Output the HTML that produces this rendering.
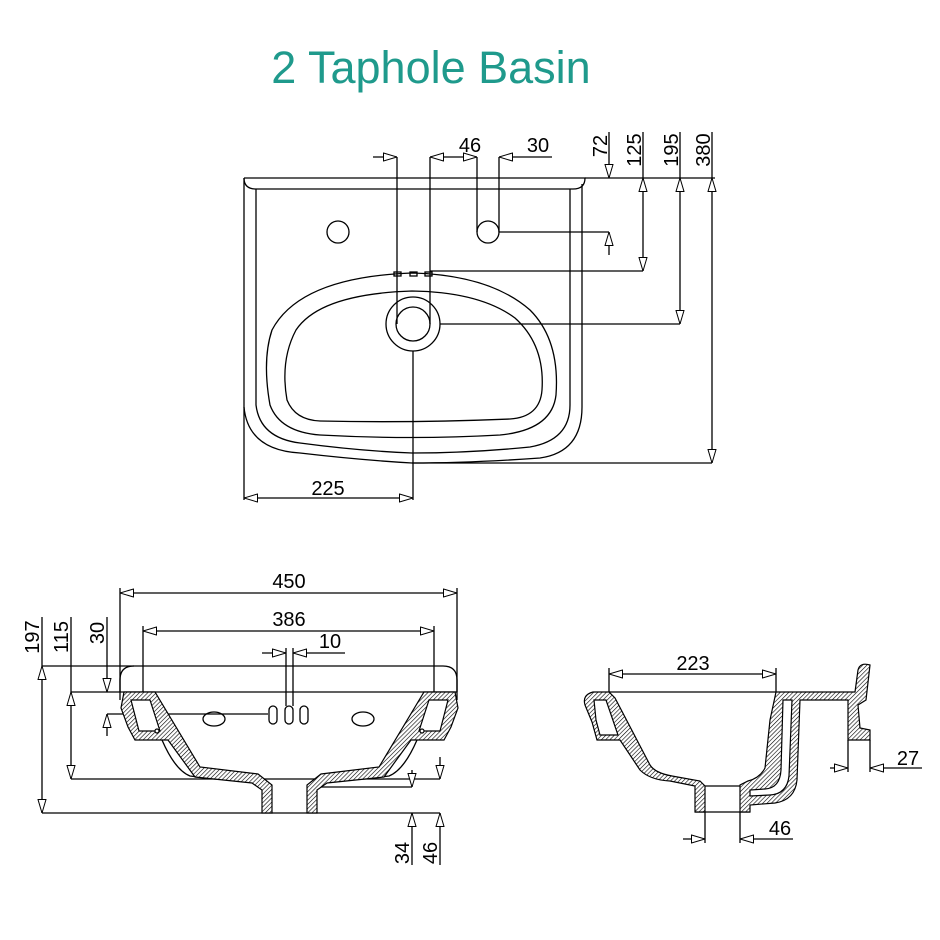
<!DOCTYPE html>
<html><head><meta charset="utf-8"><style>
html,body{margin:0;padding:0;background:#fff;}
svg{display:block;}
text{font-family:"Liberation Sans",sans-serif;fill:#000;}
</style></head><body>
<svg width="940" height="940" viewBox="0 0 940 940" xmlns="http://www.w3.org/2000/svg">
<defs>
<pattern id="h" width="3" height="3" patternUnits="userSpaceOnUse" patternTransform="rotate(45)">
<rect width="3" height="3" fill="#fff"/><line x1="0" y1="0" x2="0" y2="3" stroke="#000" stroke-width="1.2"/>
</pattern>
<marker id="a" viewBox="0 0 14 9" refX="14" refY="4.5" markerWidth="14" markerHeight="9" orient="auto-start-reverse" markerUnits="userSpaceOnUse">
<path d="M0.5,0.5 L14,4.5 L0.5,8.5 Z" fill="#fff" stroke="#000" stroke-width="1"/>
</marker>
</defs>
<text x="431" y="83" text-anchor="middle" font-size="45" style="fill:#1f9a8c">2 Taphole Basin</text>

<g fill="none" stroke="#000" stroke-width="1.3">
<path d="M244,178 H585 Q585,189 573,189 H256 Q244,189 244,178"/>
<path d="M244,178 V407 Q248,450 300,453 Q360,460 412,463 Q470,463 540,458 Q582,452 582,407 V184"/>
<path d="M256,189 V405 Q260,438 300,443 Q360,451 412,453 Q470,453 530,447 Q570,440 570,405 V189"/>
<path d="M412,273 Q300,277 272,330 Q262,360 270,405 Q280,432 320,435 Q412,440 500,435 Q552,430 556,395 Q560,340 530,310 Q490,275 412,273 Z"/>
<path d="M412,291 Q320,294 296,330 Q280,360 287,400 Q295,420 320,421 Q412,423 510,419 Q540,417 542,390 Q545,345 515,318 Q480,292 412,291 Z"/>
<circle cx="413" cy="324" r="27"/><circle cx="413" cy="324" r="17"/>
<circle cx="338" cy="232" r="11"/><circle cx="488" cy="232" r="11"/>
<rect x="394" y="272" width="7" height="4"/><rect x="410" y="272" width="7" height="4"/><rect x="425" y="272" width="7" height="4"/>
<line x1="397" y1="157" x2="397" y2="324"/><line x1="430" y1="157" x2="430" y2="324"/>
<line x1="373" y1="157" x2="397" y2="157" marker-end="url(#a)"/>
<line x1="430" y1="157" x2="454" y2="157" marker-start="url(#a)"/>
<line x1="454" y1="157" x2="477" y2="157" marker-end="url(#a)"/>
<line x1="499" y1="157" x2="552" y2="157" marker-start="url(#a)"/>
<line x1="477" y1="157" x2="477" y2="232"/><line x1="499" y1="157" x2="499" y2="232"/>
<line x1="585" y1="178" x2="715" y2="178"/>
<line x1="499" y1="232" x2="609" y2="232"/>
<line x1="430" y1="271" x2="643" y2="271"/>
<line x1="440" y1="324" x2="680" y2="324"/>
<line x1="412" y1="463" x2="712" y2="463"/>
<line x1="609" y1="132" x2="609" y2="178" marker-end="url(#a)"/>
<line x1="609" y1="255" x2="609" y2="232" marker-end="url(#a)"/>
<line x1="643" y1="132" x2="643" y2="178"/><line x1="643" y1="178" x2="643" y2="271" marker-start="url(#a)" marker-end="url(#a)"/>
<line x1="680" y1="132" x2="680" y2="178"/><line x1="680" y1="178" x2="680" y2="324" marker-start="url(#a)" marker-end="url(#a)"/>
<line x1="712" y1="132" x2="712" y2="178"/><line x1="712" y1="178" x2="712" y2="463" marker-start="url(#a)" marker-end="url(#a)"/>
<line x1="413" y1="351" x2="413" y2="500"/><line x1="244" y1="407" x2="244" y2="500"/>
<line x1="244" y1="498" x2="413" y2="498" marker-start="url(#a)" marker-end="url(#a)"/>

<line x1="120" y1="593" x2="457" y2="593" marker-start="url(#a)" marker-end="url(#a)"/>
<line x1="120" y1="588" x2="120" y2="700"/><line x1="457" y1="588" x2="457" y2="700"/>
<line x1="143" y1="631" x2="434" y2="631" marker-start="url(#a)" marker-end="url(#a)"/>
<line x1="143" y1="626" x2="143" y2="692"/><line x1="434" y1="626" x2="434" y2="692"/>
<line x1="262" y1="653" x2="286" y2="653" marker-end="url(#a)"/>
<line x1="293" y1="653" x2="345" y2="653" marker-start="url(#a)"/>
<line x1="286" y1="648" x2="286" y2="706"/><line x1="293" y1="648" x2="293" y2="706"/>
<path d="M120,692 V680 Q120,666 134,666 H443 Q457,666 457,680 V692"/>
<line x1="42" y1="666" x2="134" y2="666"/>
<line x1="71" y1="692" x2="457" y2="692"/>
<line x1="107" y1="714" x2="268" y2="714"/>
<line x1="42" y1="617" x2="42" y2="666"/><line x1="42" y1="666" x2="42" y2="813" marker-start="url(#a)" marker-end="url(#a)"/>
<line x1="71" y1="617" x2="71" y2="692"/><line x1="71" y1="692" x2="71" y2="779" marker-start="url(#a)" marker-end="url(#a)"/>
<line x1="107" y1="617" x2="107" y2="692" marker-end="url(#a)"/>
<line x1="107" y1="736" x2="107" y2="714" marker-end="url(#a)"/>
<line x1="71" y1="779" x2="440" y2="779"/>
<line x1="317" y1="787" x2="412" y2="787"/>
<line x1="42" y1="813" x2="440" y2="813"/>
<line x1="412" y1="770" x2="412" y2="787" marker-end="url(#a)"/>
<line x1="412" y1="865" x2="412" y2="813" marker-end="url(#a)"/>
<line x1="440" y1="757" x2="440" y2="779" marker-end="url(#a)"/>
<line x1="440" y1="865" x2="440" y2="813" marker-end="url(#a)"/>
<ellipse cx="214" cy="719" rx="11" ry="7"/><ellipse cx="363" cy="719" rx="11" ry="7"/>
<rect x="269" y="706" width="8" height="18" rx="4"/><rect x="285" y="706" width="8" height="18" rx="4"/><rect x="300" y="706" width="8" height="18" rx="4"/>
<path d="M162,740 Q175,770 190,776 Q220,780 262,782"/>
<path d="M417,740 Q404,770 389,776 Q359,780 317,782"/>
</g>
<g stroke="#000" stroke-width="1.2" fill="url(#h)">
<path d="M124,692 H155 L200,767 L258,774 L272,785 V813 H262 V790 L252,783 L195,777 L168,740 H135 L128,727 L121,708 Z"/>
<path d="M455,692 H424 L379,767 L321,774 L307,785 V813 H317 V790 L327,783 L384,777 L411,740 H444 L451,727 L458,708 Z"/>
</g>
<g stroke="#000" stroke-width="1.2" fill="#fff">
<path d="M131,700 H150 L160,731 H139 Z"/><path d="M448,700 H429 L419,731 H440 Z"/>
<circle cx="157" cy="731" r="2"/><circle cx="422" cy="731" r="2"/>
</g>

<g fill="none" stroke="#000" stroke-width="1.3">
<line x1="609" y1="674" x2="776" y2="674" marker-start="url(#a)" marker-end="url(#a)"/>
<line x1="609" y1="668" x2="609" y2="692"/><line x1="776" y1="668" x2="776" y2="692"/>
<line x1="609" y1="692" x2="776" y2="692"/>
<line x1="848" y1="740" x2="848" y2="772"/><line x1="870" y1="740" x2="870" y2="772"/>
<line x1="830" y1="768" x2="848" y2="768" marker-end="url(#a)"/>
<line x1="870" y1="768" x2="922" y2="768" marker-start="url(#a)"/>
<line x1="705" y1="812" x2="705" y2="843"/><line x1="740" y1="812" x2="740" y2="843"/>
<line x1="683" y1="839" x2="705" y2="839" marker-end="url(#a)"/>
<line x1="740" y1="839" x2="793" y2="839" marker-start="url(#a)"/>
<line x1="705" y1="786" x2="740" y2="786"/><line x1="695" y1="812" x2="750" y2="812"/>
</g>
<g stroke="#000" stroke-width="1.2" fill="url(#h)">
<path d="M609,692 H593 Q582,695 585,705 L592,722 L597,740 H620 L640,770 Q650,780 670,781 L695,786 V812 H705 V786 L700,781 L672,776 Q655,773 650,765 L615,698 Z"/>
<path d="M776,692 L770,720 L765,768 Q760,778 748,781 L740,785 V812 H750 V805 L775,803 Q795,800 797,780 L800,700 H848 V740 H870 V730 L860,728 L858,705 L866,700 L870,665 Q860,662 858,670 L855,692 Z"/>
</g>
<g stroke="#000" stroke-width="1.2" fill="#fff">
<path d="M594,700 H606 L618,735 H600 L596,720 Z"/>
<path d="M783,700 H792 L789,776 Q787,794 770,795 L750,796 V790 L765,789 Q780,788 781,770 Z"/>
</g>

<g font-size="20">
<text x="470" y="152" text-anchor="middle">46</text>
<text x="538" y="152" text-anchor="middle">30</text>
<text x="328" y="495" text-anchor="middle">225</text>
<text transform="translate(607,146) rotate(-90)" text-anchor="middle">72</text>
<text transform="translate(641,150) rotate(-90)" text-anchor="middle">125</text>
<text transform="translate(678,150) rotate(-90)" text-anchor="middle">195</text>
<text transform="translate(710,150) rotate(-90)" text-anchor="middle">380</text>
<text x="289" y="588" text-anchor="middle">450</text>
<text x="289" y="626" text-anchor="middle">386</text>
<text x="330" y="648" text-anchor="middle">10</text>
<text transform="translate(39,637) rotate(-90)" text-anchor="middle">197</text>
<text transform="translate(68,637) rotate(-90)" text-anchor="middle">115</text>
<text transform="translate(104,633) rotate(-90)" text-anchor="middle">30</text>
<text transform="translate(409,853) rotate(-90)" text-anchor="middle">34</text>
<text transform="translate(437,853) rotate(-90)" text-anchor="middle">46</text>
<text x="693" y="670" text-anchor="middle">223</text>
<text x="908" y="765" text-anchor="middle">27</text>
<text x="780" y="835" text-anchor="middle">46</text>
</g>
</svg>
</body></html>
